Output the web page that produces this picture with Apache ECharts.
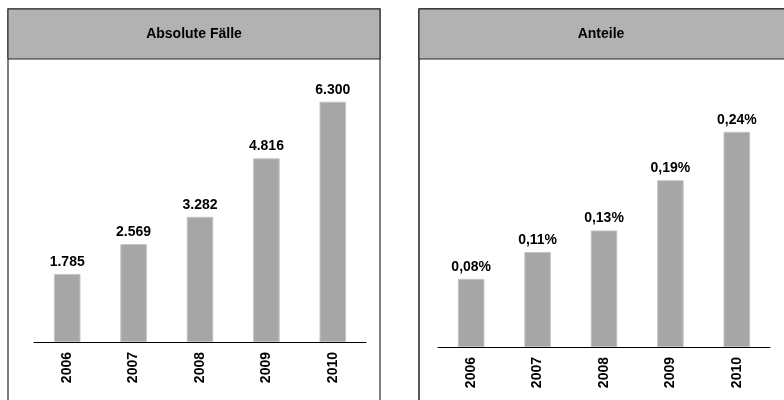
<!DOCTYPE html>
<html>
<head>
<meta charset="utf-8">
<script src="https://cdn.jsdelivr.net/npm/echarts@6/dist/echarts.min.js"></script>
<style>
html,body{margin:0;padding:0;background:#fff;}
#container{width:784px;height:400px;}
</style>
</head>
<body>
<div id="container"></div>
<script>
var years = ['2006', '2007', '2008', '2009', '2010'];
var absoluteCases = [1785, 2569, 3282, 4816, 6300];
var shares = [0.076, 0.106, 0.13, 0.186, 0.24]; // in Prozent
var titles = ['Absolute Fälle', 'Anteile'];

function fmtThousands(v) {
    return String(v).replace(/\B(?=(\d{3})+(?!\d))/g, '.');
}
function fmtPercent(v) {
    return (Math.round(v * 100) / 100).toFixed(2).replace('.', ',') + '%';
}

var font = 'Liberation Sans, Arial, sans-serif';
var dom = document.getElementById('container');
var myChart = echarts.init(dom);

var xAxisStyle = {
    type: 'category',
    data: years,
    axisLine: {lineStyle: {color: '#000', width: 1}},
    axisTick: {show: false},
    axisLabel: {
        rotate: 90,
        margin: 10,
        color: '#000',
        fontWeight: 'bold',
        fontSize: 14,
        fontFamily: font
    }
};

var barLabel = {
    show: true,
    position: 'top',
    distance: 5,
    color: '#000',
    fontWeight: 'bold',
    fontSize: 14,
    fontFamily: font
};

option = {
    animation: false,
    backgroundColor: '#fff',
    graphic: [
        // Rahmen links
        {type: 'rect', shape: {x: 8, y: 9, width: 372, height: 400},
         style: {fill: '#fff', stroke: '#808080', lineWidth: 2}, z: -10},
        {type: 'rect', shape: {x: 8, y: 9, width: 372, height: 50},
         style: {fill: '#b2b2b2', stroke: '#222', lineWidth: 1}, z: -5},
        {type: 'text', x: 194, y: 34,
         style: {text: titles[0], fill: '#000', font: 'bold 14px ' + font,
                 textAlign: 'center', textVerticalAlign: 'middle'}},
        // Rahmen rechts
        {type: 'rect', shape: {x: 419, y: 9, width: 380, height: 400},
         style: {fill: '#fff', stroke: '#222', lineWidth: 1.5}, z: -10},
        {type: 'rect', shape: {x: 419, y: 9, width: 380, height: 50},
         style: {fill: '#b2b2b2', stroke: '#222', lineWidth: 1}, z: -5},
        {type: 'text', x: 601, y: 34,
         style: {text: titles[1], fill: '#000', font: 'bold 14px ' + font,
                 textAlign: 'center', textVerticalAlign: 'middle'}}
    ],
    grid: [
        {left: 34, right: 418, top: 75, bottom: 58},
        {left: 438, right: 14, top: 78, bottom: 53}
    ],
    xAxis: [
        Object.assign({gridIndex: 0}, xAxisStyle),
        Object.assign({gridIndex: 1}, xAxisStyle)
    ],
    yAxis: [
        {gridIndex: 0, type: 'value', min: 0, max: 7000, show: false},
        {gridIndex: 1, type: 'value', min: 0, max: 0.3, show: false}
    ],
    series: [
        {
            type: 'bar',
            xAxisIndex: 0,
            yAxisIndex: 0,
            data: absoluteCases,
            barWidth: '40%',
            itemStyle: {color: '#a6a6a6', borderColor: '#c4c4c4', borderWidth: 1},
            label: Object.assign({}, barLabel, {
                formatter: function (p) { return fmtThousands(p.value); }
            })
        },
        {
            type: 'bar',
            xAxisIndex: 1,
            yAxisIndex: 1,
            data: shares,
            barWidth: '40%',
            itemStyle: {color: '#a6a6a6', borderColor: '#c4c4c4', borderWidth: 1},
            label: Object.assign({}, barLabel, {
                formatter: function (p) { return fmtPercent(p.value); }
            })
        }
    ]
};
if (option && typeof option === "object") {
    myChart.setOption(option, true);
}
</script>
</body>
</html>
